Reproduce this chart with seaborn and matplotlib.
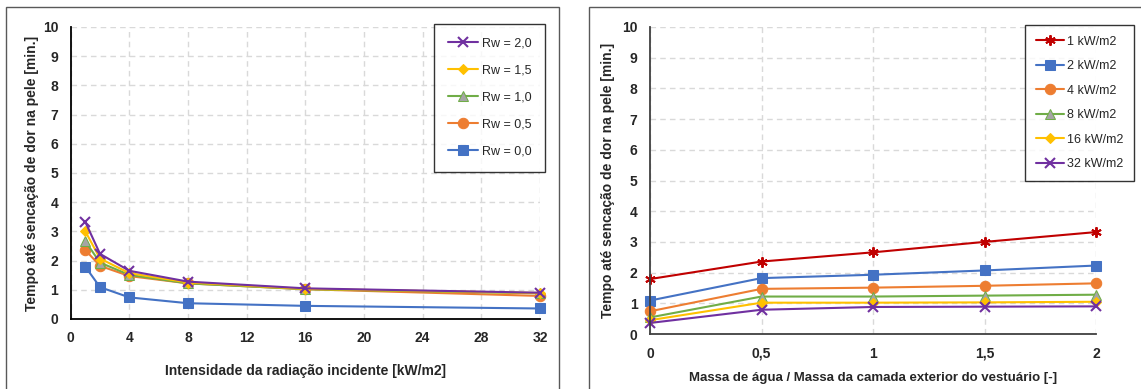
import matplotlib
matplotlib.use("Agg")
import matplotlib.pyplot as plt
from matplotlib.ticker import MultipleLocator, FuncFormatter
from matplotlib.patches import Rectangle
import seaborn as sns
import pandas as pd

# Incident radiation intensity [kW/m2]
irradiance = [1, 2, 4, 8, 16, 32]
# Water mass / outer garment layer mass ratio [-]
rw = [0.0, 0.5, 1.0, 1.5, 2.0]
# Time to pain sensation [min] for each irradiance, one value per Rw
t_1kw = [1.79, 2.36, 2.66, 3.00, 3.32]
t_2kw = [1.09, 1.82, 1.93, 2.07, 2.23]
t_4kw = [0.74, 1.47, 1.51, 1.57, 1.65]
t_8kw = [0.54, 1.22, 1.22, 1.25, 1.28]
t_16kw = [0.45, 1.02, 1.02, 1.03, 1.05]
t_32kw = [0.36, 0.79, 0.88, 0.89, 0.90]

irr_labels = ["1 kW/m2", "2 kW/m2", "4 kW/m2", "8 kW/m2", "16 kW/m2", "32 kW/m2"]
rw_labels = ["Rw = 0,0", "Rw = 0,5", "Rw = 1,0", "Rw = 1,5", "Rw = 2,0"]

rows = []
for lab, irr, vals in zip(irr_labels, irradiance,
                          [t_1kw, t_2kw, t_4kw, t_8kw, t_16kw, t_32kw]):
    for r, rl, v in zip(rw, rw_labels, vals):
        rows.append({"irr": irr, "irr_label": lab, "rw": r, "rw_label": rl, "t": v})
df = pd.DataFrame(rows)

sns.set_style("white")
plt.rcParams["font.family"] = ["Liberation Sans", "DejaVu Sans"]
plt.rcParams["font.weight"] = "bold"
plt.rcParams["axes.labelweight"] = "bold"

BLUE = "#4472C4"
ORANGE = "#ED7D31"
GREEN = "#70AD47"
YELLOW = "#FFC000"
PURPLE = "#7030A0"
RED = "#C00000"

rw_styles = {
    "Rw = 0,0": dict(color=BLUE, marker="s", markersize=6.5, markerfacecolor=BLUE, markeredgecolor=BLUE),
    "Rw = 0,5": dict(color=ORANGE, marker="o", markersize=7.5, markerfacecolor=ORANGE, markeredgecolor=ORANGE),
    "Rw = 1,0": dict(color=GREEN, marker="^", markersize=7, markerfacecolor="#A5A5A5", markeredgecolor=GREEN),
    "Rw = 1,5": dict(color=YELLOW, marker="D", markersize=5.5, markerfacecolor=YELLOW, markeredgecolor=YELLOW),
    "Rw = 2,0": dict(color=PURPLE, marker="x", markersize=7, markeredgewidth=1.5, markeredgecolor=PURPLE),
}
irr_styles = {
    "1 kW/m2": dict(color=RED, marker=(6, 2, 0), markersize=7.5, markeredgewidth=1.4, markeredgecolor=RED),
    "2 kW/m2": dict(color=BLUE, marker="s", markersize=6.5, markerfacecolor=BLUE, markeredgecolor=BLUE),
    "4 kW/m2": dict(color=ORANGE, marker="o", markersize=7.5, markerfacecolor=ORANGE, markeredgecolor=ORANGE),
    "8 kW/m2": dict(color=GREEN, marker="^", markersize=7, markerfacecolor="#A5A5A5", markeredgecolor=GREEN),
    "16 kW/m2": dict(color=YELLOW, marker="D", markersize=5.5, markerfacecolor=YELLOW, markeredgecolor=YELLOW),
    "32 kW/m2": dict(color=PURPLE, marker="x", markersize=7, markeredgewidth=1.5, markeredgecolor=PURPLE),
}

fig = plt.figure(figsize=(11.41, 3.89), dpi=100)

# panel frames
for x0, w in [(6, 553), (589, 560)]:
    fig.patches.append(Rectangle((x0 / 1141, -0.05), w / 1141, (389 - 7) / 389 + 0.05,
                                 transform=fig.transFigure, fill=False,
                                 edgecolor="#595959", linewidth=1.0))

axL = fig.add_axes([70.7 / 1141, 1 - 319 / 389, (540 - 70.7) / 1141, (319 - 27) / 389])
axR = fig.add_axes([650 / 1141, 1 - 334 / 389, (1096 - 650) / 1141, (334 - 27) / 389])


def style_axes(ax, spine_color):
    ax.set_facecolor("none")
    for s in ["top", "right"]:
        ax.spines[s].set_visible(False)
    for s in ["left", "bottom"]:
        ax.spines[s].set_color(spine_color)
        ax.spines[s].set_linewidth(1.3)
    ax.grid(True, which="major", linestyle=(0, (4, 3)), color="#D9D9D9", linewidth=1.0)
    ax.set_axisbelow(True)
    ax.tick_params(which="major", direction="inout", length=8, width=1.2, color=spine_color,
                   labelsize=10, pad=5)
    ax.tick_params(which="minor", direction="in", length=4, width=1.0, color=spine_color)
    ax.set_ylim(0, 10)
    ax.yaxis.set_major_locator(MultipleLocator(1))
    ax.yaxis.set_minor_locator(MultipleLocator(0.5))


legend_font = {"weight": "normal", "size": 9}

# left: time vs irradiance for each Rw
for lab in rw_labels:
    sub = df[df["rw_label"] == lab]
    sns.lineplot(data=sub, x="irr", y="t", ax=axL, label=lab, linewidth=1.5,
                 clip_on=False, **rw_styles[lab])
axL.set_xlim(0, 32)
axL.xaxis.set_major_locator(MultipleLocator(4))
axL.xaxis.set_minor_locator(MultipleLocator(2))
style_axes(axL, "black")
axL.set_xlabel("Intensidade da radiação incidente [kW/m2]", fontsize=10, labelpad=13)
axL.set_ylabel("Tempo até sencação de dor na pele [min.]", fontsize=10, labelpad=3)
h, l = axL.get_legend_handles_labels()
legL = axL.legend(h[::-1], l[::-1], loc="upper right", bbox_to_anchor=(1.011, 1.01),
                  borderaxespad=0, frameon=True, fancybox=False, edgecolor="black",
                  prop=legend_font, handlelength=2.4, labelspacing=1.2, borderpad=1.1,
                  handletextpad=0.3)
legL.get_frame().set_linewidth(1.0)

# right: time vs water ratio for each irradiance
for lab in irr_labels:
    sub = df[df["irr_label"] == lab]
    sns.lineplot(data=sub, x="rw", y="t", ax=axR, label=lab, linewidth=1.5,
                 clip_on=False, **irr_styles[lab])
axR.set_xlim(0, 2)
axR.xaxis.set_major_locator(MultipleLocator(0.5))
axR.xaxis.set_minor_locator(MultipleLocator(0.25))
axR.xaxis.set_major_formatter(FuncFormatter(lambda v, p: f"{v:g}".replace(".", ",")))
style_axes(axR, "#404040")
axR.set_xlabel("Massa de água / Massa da camada exterior do vestuário [-]", fontsize=9.5,
               labelpad=8)
axR.set_ylabel("Tempo até sencação de dor na pele [min.]", fontsize=10, labelpad=5)
legR = axR.legend(loc="upper left", bbox_to_anchor=(0.841, 1.0065),
                  borderaxespad=0, frameon=True, fancybox=False, edgecolor="black",
                  prop=legend_font, handlelength=2.3, labelspacing=1.0, borderpad=0.85,
                  handletextpad=0.2)
legR.get_frame().set_linewidth(1.0)

fig.savefig("out.png", dpi=100)
